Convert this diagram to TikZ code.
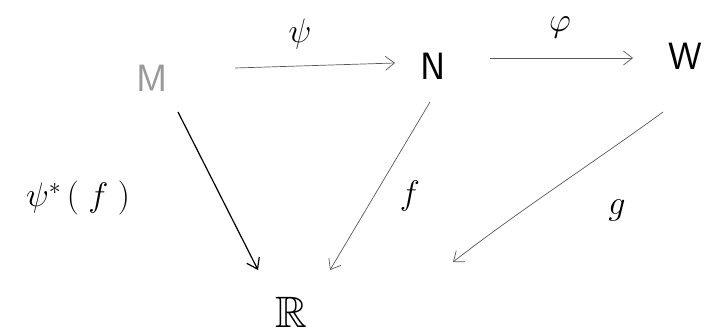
\RequirePackage{fix-cm}
\documentclass[tikz,border=0pt]{standalone}
\usepackage{amssymb}
\usetikzlibrary{arrows.meta}
\begin{document}
\begin{tikzpicture}[x=1pt,y=-1pt,
  obj/.style={inner sep=0pt,font=\fontsize{38}{38}\selectfont\sffamily},
  lbl/.style={inner sep=0pt,font=\fontsize{34}{34}\selectfont},
  arr/.style={-{Straight Barb[length=9pt,width=14pt]},line width=0.7pt,gray!70!black},
  darr/.style={-{Straight Barb[length=10pt,width=14pt]},line width=1.2pt,black}]
\useasboundingbox (0,0) rectangle (709,333);
\node[obj,text=gray!80] (M) at (152,78) {M};
\node[obj] (N) at (433,66) {N};
\node[obj] (W) at (685,56) {W};
\node[obj,font=\fontsize{44}{44}\selectfont] (R) at (291,312) {$\mathbb{R}$};
\coordinate (m1) at (235,68); \coordinate (n1) at (395,63);
\coordinate (n2) at (490,58); \coordinate (w1) at (633,58);
\coordinate (m2) at (178,112); \coordinate (r1) at (258,270);
\coordinate (n3) at (430,102); \coordinate (r2) at (330,270);
\coordinate (w2) at (663,112); \coordinate (r3) at (453,262);
\draw[arr] (m1) -- (n1);
\draw[arr] (n2) -- (w1);
\draw[darr] (m2) -- (r1);
\draw[arr] (n3) -- (r2);
\draw[arr] (w2) .. controls (590,165) and (520,210) .. (r3);
\node[lbl] (psi) at (300,34) {$\psi$};
\node[lbl] (phi) at (560,27) {$\varphi$};
\node[lbl] (psif) at (78,198) {$\psi^{*}\,(\;f\;)$};
\node[lbl] (f) at (410,196) {$f$};
\node[lbl] (g) at (617,210) {$g$};
\end{tikzpicture}
\end{document}
